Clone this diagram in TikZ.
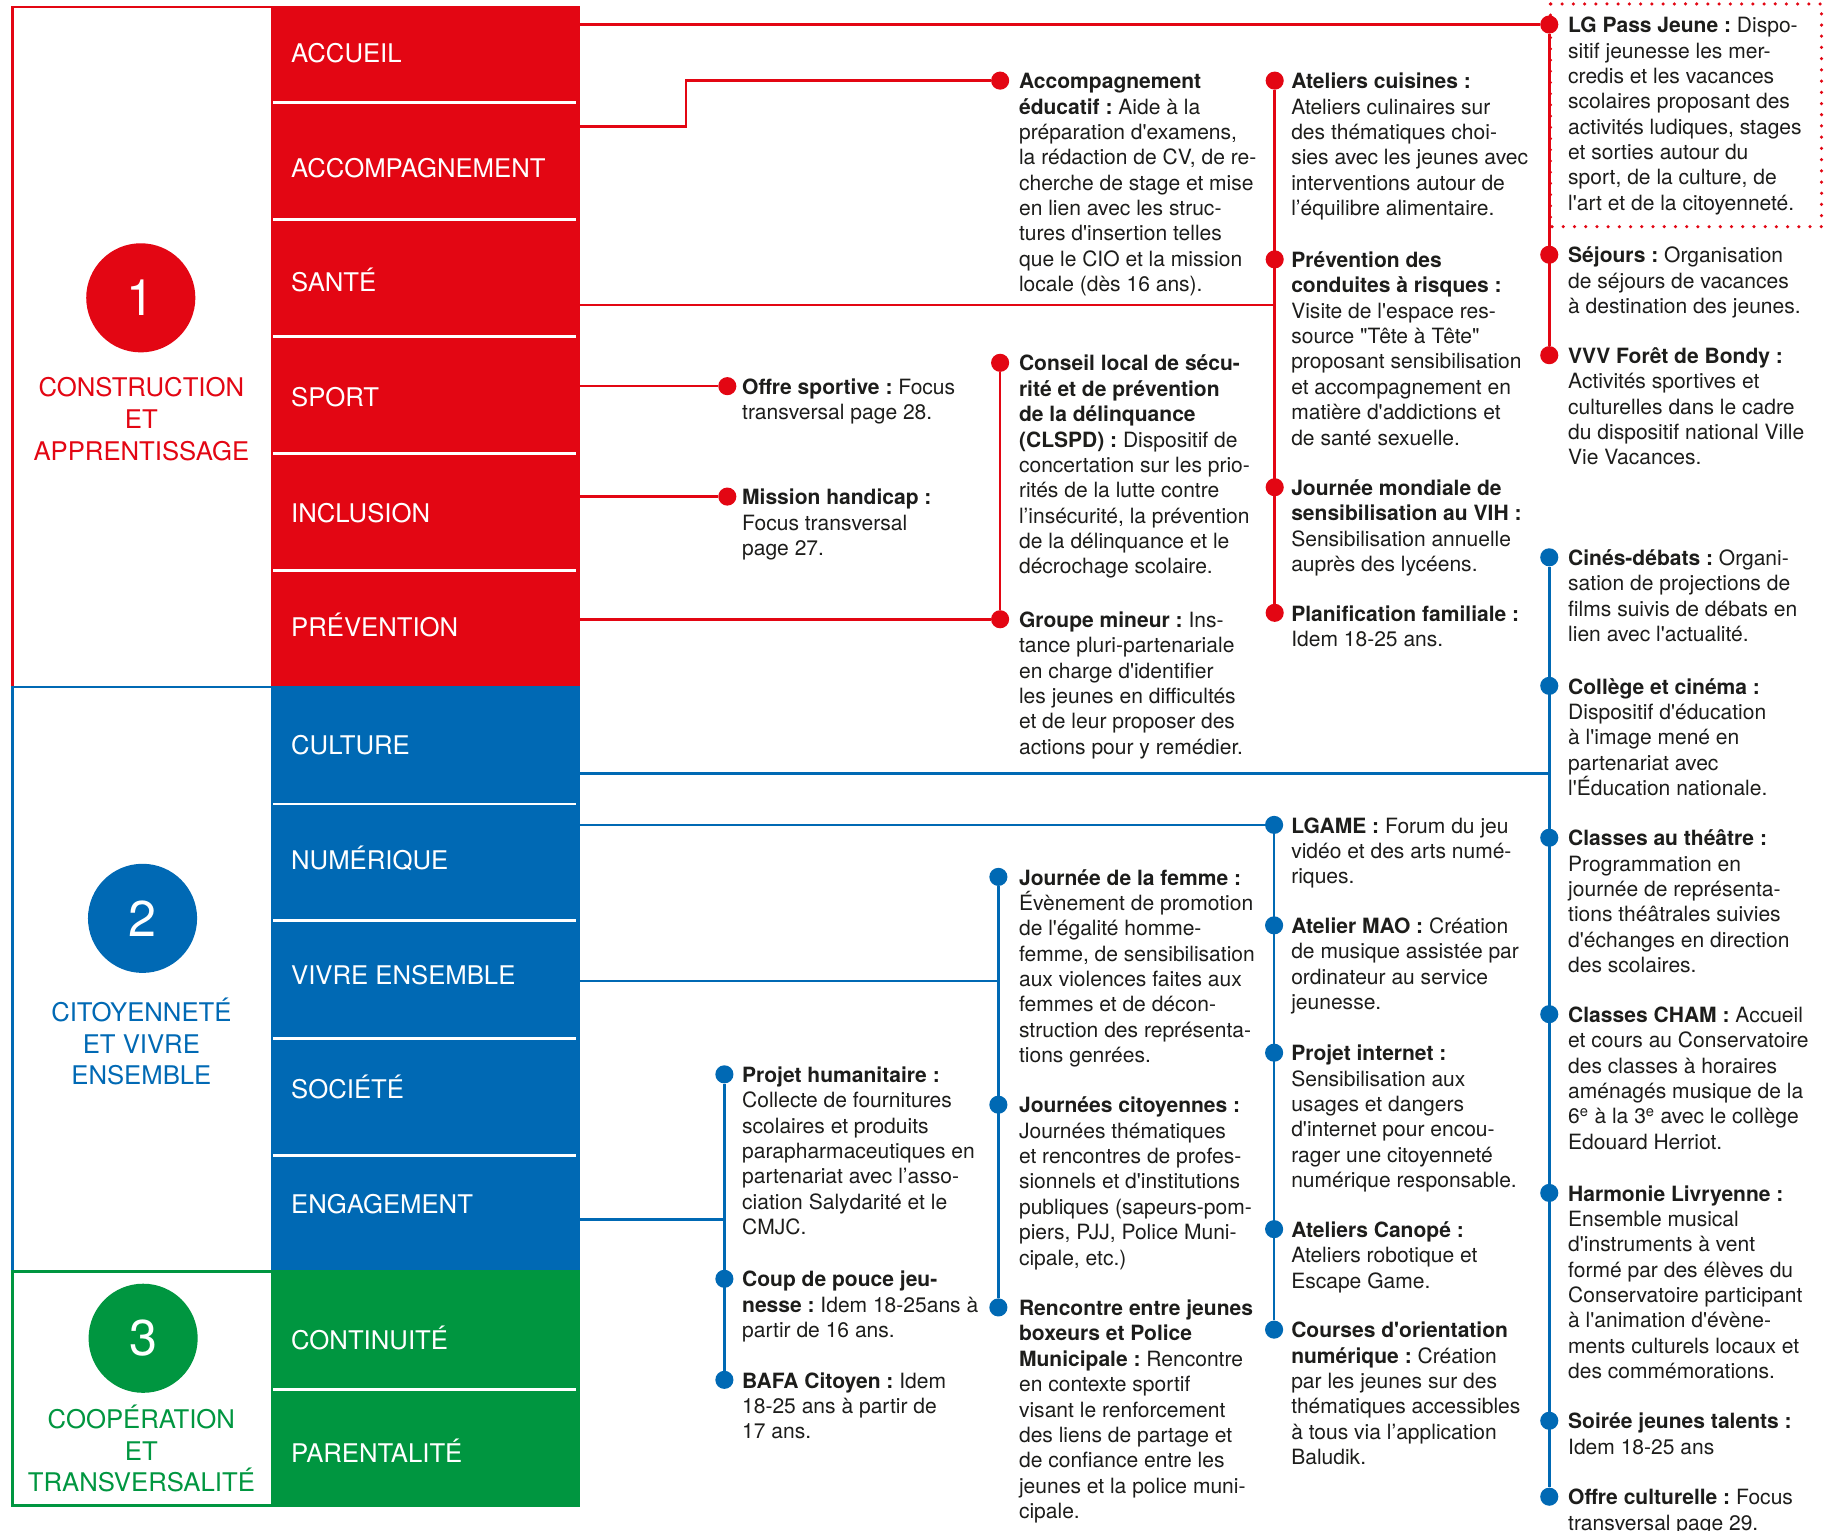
\documentclass[tikz,border=0pt]{standalone}
\usepackage{fontspec}
\setmainfont{TeX Gyre Heros}[Ligatures=TeXOff]
\usetikzlibrary{calc}
\frenchspacing
\definecolor{cred}{HTML}{E30613}
\definecolor{cblue}{HTML}{0069B4}
\definecolor{cgreen}{HTML}{009640}
\definecolor{ctext}{HTML}{1D1D1B}
\newcommand\blk[1]{\vtop{\baselineskip=21.7pt\lineskiplimit=-50pt\lineskip=0pt #1}}
\newcommand\li[1]{\hbox{#1}}
\newcommand\ctr[1]{\vtop{\baselineskip=27.3pt\lineskiplimit=-50pt\lineskip=0pt\halign{\hfil##\hfil\cr#1\crcr}}}
\begin{document}
\begin{tikzpicture}[x=1pt,y=-1pt,
  txt/.style={anchor=base west, inner sep=0pt, text=ctext, font=\fontsize{18}{21.7}\selectfont\frenchspacing},
  dotr/.style={circle, fill=cred, inner sep=0pt, minimum size=15.5pt},
  dotb/.style={circle, fill=cblue, inner sep=0pt, minimum size=15.5pt},
  linr/.style={draw=cred, line width=2.2pt},
  linb/.style={draw=cblue, line width=2.2pt},
  rowlab/.style={anchor=west, inner sep=0pt, text=white, font=\fontsize{22}{26}\selectfont, text height=15.8pt, text depth=0pt},
  seclab/.style={anchor=base, inner sep=0pt, font=\fontsize{22}{27.3}\selectfont},
  numc/.style={circle, inner sep=0pt, minimum size=93.4pt, text=white, font=\fontsize{43}{43}\selectfont},
  rowsep/.style={draw=white, line width=2.3pt},
  secframe/.style={line width=2.5pt},
]
\useasboundingbox (0,0) rectangle (1568,1310);
\fill[white] (0,0) rectangle (1568,1310);

% ---------- left structure ----------
\draw[secframe, draw=cred] (11,6) rectangle (495,588);
\fill[cred] (232,6) rectangle (495,588);
\draw[secframe, draw=cblue] (11,588) rectangle (495,1088.5);
\fill[cblue] (232,588) rectangle (495,1088.5);
\draw[secframe, draw=cgreen] (11,1088.5) rectangle (495,1288.5);
\fill[cgreen] (232,1088.5) rectangle (495,1288.5);
\foreach \yy in {88,188,288,388,488,688,788,889,989,1189}
  \draw[rowsep] (234,\yy) -- (493,\yy);

\node[numc, fill=cred] (n1) at (120.5,254.9) {1};
\node[numc, fill=cblue] (n2) at (122,786) {2};
\node[numc, fill=cgreen] (n3) at (122.5,1145.4) {3};
\node[seclab, text=cred] (sec1) at (121,339.7) {\ctr{CONSTRUCTION\cr ET\cr APPRENTISSAGE}};
\node[seclab, text=cblue] (sec2) at (121,874) {\ctr{CITOYENNETÉ\cr ET VIVRE\cr ENSEMBLE}};
\node[seclab, text=cgreen] (sec3) at (121,1222.3) {\ctr{COOPÉRATION\cr ET\cr TRANSVERSALITÉ}};

\node[rowlab] (r-accueil) at (249,46) {ACCUEIL};
\node[rowlab] (r-accomp) at (249,144) {ACCOMPAGNEMENT};
\node[rowlab] (r-sante) at (249,242) {SANTÉ};
\node[rowlab] (r-sport) at (249,340) {SPORT};
\node[rowlab] (r-incl) at (249,439) {INCLUSION};
\node[rowlab] (r-prev) at (249,537) {PRÉVENTION};
\node[rowlab] (r-cult) at (249,638) {CULTURE};
\node[rowlab] (r-num) at (249,736) {NUMÉRIQUE};
\node[rowlab] (r-viv) at (249,835) {VIVRE ENSEMBLE};
\node[rowlab] (r-soc) at (249,932) {SOCIÉTÉ};
\node[rowlab] (r-eng) at (249,1031) {ENGAGEMENT};
\node[rowlab] (r-cont) at (249,1147) {CONTINUITÉ};
\node[rowlab] (r-par) at (249,1244) {PARENTALITÉ};

% ---------- connector start points on the column edge ----------
\coordinate (s-accueil) at (495,21);
\coordinate (s-accomp) at (495,108.4);
\coordinate (k-accomp) at (587,108.4);
\coordinate (s-sante) at (495,261);
\coordinate (s-sport) at (495,330.5);
\coordinate (s-incl) at (495,425);
\coordinate (s-prev) at (495,530);
\coordinate (s-cult) at (495,661.8);
\coordinate (s-num) at (495,706);
\coordinate (s-viv) at (495,839.6);
\coordinate (s-eng) at (495,1043.6);

% ---------- dots ----------
\node[dotr] (d-lg) at (1326,21) {};
\node[dotr] (d-sej) at (1326,218) {};
\node[dotr] (d-vvv) at (1326,304) {};
\node[dotr] (d-acc) at (856,69) {};
\node[dotr] (d-cls) at (856,310.5) {};
\node[dotr] (d-grp) at (856,530) {};
\node[dotr] (d-cui) at (1091,69) {};
\node[dotr] (d-pre) at (1091,222) {};
\node[dotr] (d-vih) at (1091,417) {};
\node[dotr] (d-pla) at (1091,524.5) {};
\node[dotr] (d-spo) at (622.5,330.5) {};
\node[dotr] (d-han) at (622.5,425) {};

\node[dotb] (d-cin) at (1326,477) {};
\node[dotb] (d-col) at (1326,587) {};
\node[dotb] (d-the) at (1326,717) {};
\node[dotb] (d-cha) at (1326,868) {};
\node[dotb] (d-har) at (1326,1021) {};
\node[dotb] (d-soi) at (1326,1216) {};
\node[dotb] (d-ocu) at (1326,1281) {};
\node[dotb] (d-lga) at (1090.5,706) {};
\node[dotb] (d-mao) at (1090.5,792) {};
\node[dotb] (d-int) at (1090.5,901) {};
\node[dotb] (d-can) at (1090.5,1052) {};
\node[dotb] (d-cou) at (1090.5,1138) {};
\node[dotb] (d-fem) at (854.5,750.5) {};
\node[dotb] (d-cit) at (854.5,945.5) {};
\node[dotb] (d-ren) at (854.5,1119) {};
\node[dotb] (d-hum) at (620,919.5) {};
\node[dotb] (d-pou) at (620,1094.5) {};
\node[dotb] (d-baf) at (620,1181) {};

% ---------- connectors ----------
\draw[linr] (s-accueil) -- (d-lg);
\draw[linr] (s-accomp) -- (k-accomp) |- (d-acc);
\draw[linr] (s-sante) -- (s-sante -| d-cui);
\draw[linr] (d-cui) -- (d-pla);
\draw[linr] (s-sport) -- (d-spo);
\draw[linr] (s-incl) -- (d-han);
\draw[linr] (s-prev) -- (d-grp);
\draw[linr] (d-cls) -- (d-grp);
\draw[linr] (d-lg) -- (d-vvv);
\draw[draw=cred, line width=3pt, line cap=round, dash pattern=on 0pt off 9.6pt] (1327,3.4) rectangle (1559,194);

\draw[linb] (s-cult) -- (s-cult -| d-cin);
\draw[linb] (d-cin) -- (d-ocu);
\draw[linb] (s-num) -- (d-lga);
\draw[linb] (d-lga) -- (d-cou);
\draw[linb] (s-viv) -- (s-viv -| d-fem);
\draw[linb] (d-fem) -- (d-ren);
\draw[linb] (s-eng) -- (s-eng -| d-hum);
\draw[linb] (d-hum) -- (d-baf);

% ---------- texts: column D ----------
\node[txt] (t-lg) at (1342,28) {\blk{\li{\textbf{LG Pass Jeune :} Dispo-}\li{sitif jeunesse les mer-}\li{credis et les vacances}\li{scolaires proposant des}\li{activités ludiques, stages}\li{et sorties autour du}\li{sport, de la culture, de}\li{l'art et de la citoyenneté.}}};
\node[txt] (t-sej) at (1342,225) {\blk{\li{\textbf{Séjours :} Organisation}\li{de séjours de vacances}\li{à destination des jeunes.}}};
\node[txt] (t-vvv) at (1342,311) {\blk{\li{\textbf{VVV Forêt de Bondy :}}\li{Activités sportives et}\li{culturelles dans le cadre}\li{du dispositif national Ville}\li{Vie Vacances.}}};
\node[txt] (t-cin) at (1342,484) {\blk{\li{\textbf{Cinés-débats :} Organi-}\li{sation de projections de}\li{films suivis de débats en}\li{lien avec l'actualité.}}};
\node[txt] (t-col) at (1342,594) {\blk{\li{\textbf{Collège et cinéma :}}\li{Dispositif d'éducation}\li{à l'image mené en}\li{partenariat avec}\li{l'Éducation nationale.}}};
\node[txt] (t-the) at (1342,724) {\blk{\li{\textbf{Classes au théâtre :}}\li{Programmation en}\li{journée de représenta-}\li{tions théâtrales suivies}\li{d'échanges en direction}\li{des scolaires.}}};
\node[txt] (t-cha) at (1342,875) {\blk{\li{\textbf{Classes CHAM :} Accueil}\li{et cours au Conservatoire}\li{des classes à horaires}\li{aménagés musique de la}\li{6\textsuperscript{e} à la 3\textsuperscript{e} avec le collège}\li{Edouard Herriot.}}};
\node[txt] (t-har) at (1342,1028) {\blk{\li{\textbf{Harmonie Livryenne :}}\li{Ensemble musical}\li{d'instruments à vent}\li{formé par des élèves du}\li{Conservatoire participant}\li{à l'animation d'évène-}\li{ments culturels locaux et}\li{des commémorations.}}};
\node[txt] (t-soi) at (1342,1223) {\blk{\li{\textbf{Soirée jeunes talents :}}\li{Idem 18-25 ans}}};
\node[txt] (t-ocu) at (1342,1288) {\blk{\li{\textbf{Offre culturelle :} Focus}\li{transversal page 29.}}};

% ---------- texts: column C ----------
\node[txt] (t-cui) at (1105,76) {\blk{\li{\textbf{Ateliers cuisines :}}\li{Ateliers culinaires sur}\li{des thématiques choi-}\li{sies avec les jeunes avec}\li{interventions autour de}\li{l’équilibre alimentaire.}}};
\node[txt] (t-pre) at (1105,229) {\blk{\li{\textbf{Prévention des}}\li{\textbf{conduites à risques :}}\li{Visite de l'espace res-}\li{source "Tête à Tête"}\li{proposant sensibilisation}\li{et accompagnement en}\li{matière d'addictions et}\li{de santé sexuelle.}}};
\node[txt] (t-vih) at (1105,424) {\blk{\li{\textbf{Journée mondiale de}}\li{\textbf{sensibilisation au VIH :}}\li{Sensibilisation annuelle}\li{auprès des lycéens.}}};
\node[txt] (t-pla) at (1105,531.5) {\blk{\li{\textbf{Planification familiale :}}\li{Idem 18-25 ans.}}};
\node[txt] (t-lga) at (1105,713) {\blk{\li{\textbf{LGAME :} Forum du jeu}\li{vidéo et des arts numé-}\li{riques.}}};
\node[txt] (t-mao) at (1105,799) {\blk{\li{\textbf{Atelier MAO :} Création}\li{de musique assistée par}\li{ordinateur au service}\li{jeunesse.}}};
\node[txt] (t-int) at (1105,908) {\blk{\li{\textbf{Projet internet :}}\li{Sensibilisation aux}\li{usages et dangers}\li{d'internet pour encou-}\li{rager une citoyenneté}\li{numérique responsable.}}};
\node[txt] (t-can) at (1105,1059) {\blk{\li{\textbf{Ateliers Canopé :}}\li{Ateliers robotique et}\li{Escape Game.}}};
\node[txt] (t-cou) at (1105,1145) {\blk{\li{\textbf{Courses d'orientation}}\li{\textbf{numérique :} Création}\li{par les jeunes sur des}\li{thématiques accessibles}\li{à tous via l’application}\li{Baludik.}}};

% ---------- texts: column B ----------
\node[txt] (t-acc) at (872,76) {\blk{\li{\textbf{Accompagnement}}\li{\textbf{éducatif :} Aide à la}\li{préparation d'examens,}\li{la rédaction de CV, de re-}\li{cherche de stage et mise}\li{en lien avec les struc-}\li{tures d'insertion telles}\li{que le CIO et la mission}\li{locale (dès 16 ans).}}};
\node[txt] (t-cls) at (872,317.5) {\blk{\li{\textbf{Conseil local de sécu-}}\li{\textbf{rité et de prévention}}\li{\textbf{de la délinquance}}\li{\textbf{(CLSPD) :} Dispositif de}\li{concertation sur les prio-}\li{rités de la lutte contre}\li{l’insécurité, la prévention}\li{de la délinquance et le}\li{décrochage scolaire.}}};
\node[txt] (t-grp) at (872,537) {\blk{\li{\textbf{Groupe mineur :} Ins-}\li{tance pluri-partenariale}\li{en charge d'identifier}\li{les jeunes en difficultés}\li{et de leur proposer des}\li{actions pour y remédier.}}};
\node[txt] (t-fem) at (872,757.5) {\blk{\li{\textbf{Journée de la femme :}}\li{Évènement de promotion}\li{de l'égalité homme-}\li{femme, de sensibilisation}\li{aux violences faites aux}\li{femmes et de décon-}\li{struction des représenta-}\li{tions genrées.}}};
\node[txt] (t-cit) at (872,952.5) {\blk{\li{\textbf{Journées citoyennes :}}\li{Journées thématiques}\li{et rencontres de profes-}\li{sionnels et d'institutions}\li{publiques (sapeurs-pom-}\li{piers, PJJ, Police Muni-}\li{cipale, etc.)}}};
\node[txt] (t-ren) at (872,1126) {\blk{\li{\textbf{Rencontre entre jeunes}}\li{\textbf{boxeurs et Police}}\li{\textbf{Municipale :} Rencontre}\li{en contexte sportif}\li{visant le renforcement}\li{des liens de partage et}\li{de confiance entre les}\li{jeunes et la police muni-}\li{cipale.}}};

% ---------- texts: column A ----------
\node[txt] (t-spo) at (635,337.5) {\blk{\li{\textbf{Offre sportive :} Focus}\li{transversal page 28.}}};
\node[txt] (t-han) at (635,432) {\blk{\li{\textbf{Mission handicap :}}\li{Focus transversal}\li{page 27.}}};
\node[txt] (t-hum) at (635,926.5) {\blk{\li{\textbf{Projet humanitaire :}}\li{Collecte de fournitures}\li{scolaires et produits}\li{parapharmaceutiques en}\li{partenariat avec l’asso-}\li{ciation Salydarité et le}\li{CMJC.}}};
\node[txt] (t-pou) at (635,1101.5) {\blk{\li{\textbf{Coup de pouce jeu-}}\li{\textbf{nesse :} Idem 18-25ans à}\li{partir de 16 ans.}}};
\node[txt] (t-baf) at (635,1188) {\blk{\li{\textbf{BAFA Citoyen :} Idem}\li{18-25 ans à partir de}\li{17 ans.}}};
\end{tikzpicture}
\end{document}
